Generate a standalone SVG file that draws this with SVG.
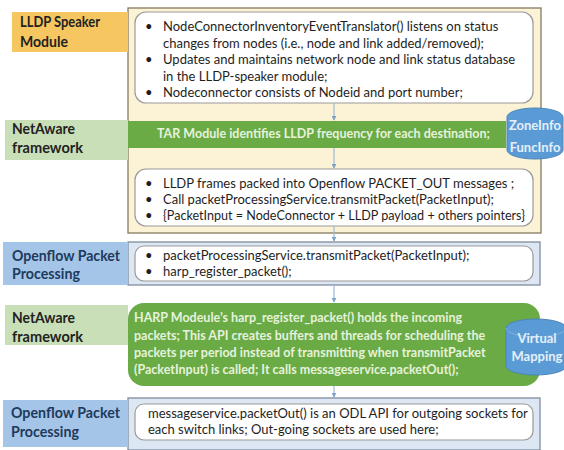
<svg xmlns="http://www.w3.org/2000/svg" width="564" height="450" viewBox="0 0 564 450">
  <defs>
    <style>
      .body { font-family: Lato, "Liberation Sans", sans-serif; font-size: 13px; fill: #1e1e1e; }
      .lbl { font-family: Lato, "Liberation Sans", sans-serif; font-size: 15px; font-weight: bold; }
      .lbl-dark { fill: #222222; }
      .lbl-blue { fill: #1f3a5c; }
      .green-txt { font-family: Lato, "Liberation Sans", sans-serif; font-size: 12.5px; font-weight: bold; fill: #e6f2dc; }
      .info-txt { font-family: Lato, "Liberation Sans", sans-serif; font-size: 13px; font-weight: bold; fill: #e4effa; text-anchor: middle; }
      .card { fill: #ffffff; stroke: #9a9a9a; stroke-width: 1.2; }
      .beige { fill: #fcf2d6; stroke: #857a60; stroke-width: 1.3; }
      .bluebg { fill: #dde7f3; stroke: #7f8c9e; stroke-width: 1.3; }
      .green { fill: #6aab45; }
      .info { fill: #5b9bd5; stroke: #4a85ba; stroke-width: 1; }
      .info-rim { fill: none; stroke: #7fb2e0; stroke-width: 1; }
      .conn { stroke: #9bb7d4; stroke-width: 1.2; fill: none; marker-end: url(#arrow); }
    </style>
    <marker id="arrow" viewBox="0 0 6 6" refX="5" refY="3" markerWidth="4" markerHeight="4" orient="auto">
      <path d="M0,0 L6,3 L0,6 Z" fill="#7fa3c8"/>
    </marker>
  </defs>

  <rect width="564" height="450" fill="#ffffff"/>

  <!-- background frames -->
  <g id="frame-lldp">
    <rect class="beige" x="128" y="8" width="413" height="225"/>
  </g>
  <g id="frame-openflow-1">
    <rect class="bluebg" x="128" y="242" width="412" height="43"/>
  </g>
  <g id="frame-openflow-2">
    <rect class="bluebg" x="128" y="398" width="412" height="52"/>
  </g>

  <!-- left-hand layer labels -->
  <g id="label-lldp">
    <rect x="12" y="12" width="116" height="40" fill="#f6c660"/>
    <text class="lbl lbl-dark" x="20" y="27" textLength="80" lengthAdjust="spacingAndGlyphs">LLDP Speaker</text>
    <text class="lbl lbl-dark" x="20" y="47" textLength="48" lengthAdjust="spacingAndGlyphs">Module</text>
  </g>
  <g id="label-netaware-1">
    <rect x="5" y="120" width="123" height="40" fill="#c8dfb8"/>
    <text class="lbl lbl-dark" x="12" y="134" textLength="63" lengthAdjust="spacingAndGlyphs">NetAware</text>
    <text class="lbl lbl-dark" x="12" y="153" textLength="71" lengthAdjust="spacingAndGlyphs">framework</text>
  </g>
  <g id="label-openflow-1">
    <rect x="3" y="242" width="125" height="43" fill="#a4c5e7"/>
    <text class="lbl lbl-blue" x="12" y="261" textLength="108" lengthAdjust="spacingAndGlyphs">Openflow Packet</text>
    <text class="lbl lbl-blue" x="12" y="279" textLength="68" lengthAdjust="spacingAndGlyphs">Processing</text>
  </g>
  <g id="label-netaware-2">
    <rect x="5" y="305" width="123" height="40" fill="#c8dfb8"/>
    <text class="lbl lbl-dark" x="12" y="323" textLength="63" lengthAdjust="spacingAndGlyphs">NetAware</text>
    <text class="lbl lbl-dark" x="12" y="342" textLength="71" lengthAdjust="spacingAndGlyphs">framework</text>
  </g>
  <g id="label-openflow-2">
    <rect x="3" y="400" width="125" height="47" fill="#a4c5e7"/>
    <text class="lbl lbl-blue" x="11" y="418" textLength="109" lengthAdjust="spacingAndGlyphs">Openflow Packet</text>
    <text class="lbl lbl-blue" x="11" y="437" textLength="68" lengthAdjust="spacingAndGlyphs">Processing</text>
  </g>

  <!-- LLDP speaker notes -->
  <g id="node-lldp-notes">
    <rect class="card" x="135" y="12" width="398" height="91" rx="11"/>
    <text class="body" x="145" y="31">•</text>
    <text class="body" x="163" y="31">NodeConnectorInventoryEventTranslator()  listens on status</text>
    <text class="body" x="163" y="47.5">changes from nodes (i.e., node and link added/removed);</text>
    <text class="body" x="145" y="64">•</text>
    <text class="body" x="163" y="64">Updates and maintains network node and link status database</text>
    <text class="body" x="163" y="80.5">in the LLDP-speaker module;</text>
    <text class="body" x="145" y="97">•</text>
    <text class="body" x="163" y="97">Nodeconnector  consists of Nodeid and port number;</text>
  </g>

  <!-- TAR module bar -->
  <g id="node-tar">
    <rect class="green" x="128" y="121" width="378" height="27"/>
    <text class="green-txt" x="157" y="138">TAR Module identifies  LLDP frequency for each destination;</text>
  </g>

  <!-- ZoneInfo / FuncInfo store -->
  <g id="node-zoneinfo">
    <path class="info" d="M507,117 A28,9 0 0 1 563,117 V150 A28,9 0 0 1 507,150 Z"/>
    <text class="info-txt" x="535" y="130">ZoneInfo</text>
    <text class="info-txt" x="535" y="152">FuncInfo</text>
  </g>

  <!-- packet-out notes -->
  <g id="node-packet-out">
    <rect class="card" x="135" y="169" width="398" height="57" rx="11"/>
    <text class="body" x="145" y="188">•</text>
    <text class="body" x="163" y="188">LLDP frames packed into Openflow PACKET_OUT messages ;</text>
    <text class="body" x="145" y="204">•</text>
    <text class="body" x="163" y="204">Call packetProcessingService.transmitPacket(PacketInput);</text>
    <text class="body" x="145" y="220">•</text>
    <text class="body" x="163" y="220" textLength="362" lengthAdjust="spacingAndGlyphs">{PacketInput = NodeConnector  + LLDP payload + others pointers}</text>
  </g>

  <!-- openflow transmit -->
  <g id="node-transmit">
    <rect class="card" x="135" y="246" width="398" height="35" rx="9"/>
    <text class="body" x="145" y="260">•</text>
    <text class="body" x="163" y="260">packetProcessingService.transmitPacket(PacketInput);</text>
    <text class="body" x="145" y="276">•</text>
    <text class="body" x="163" y="276">harp_register_packet();</text>
  </g>

  <!-- HARP module -->
  <g id="node-harp">
    <rect class="green" x="128" y="303" width="412" height="83" rx="16"/>
    <text class="green-txt" x="134" y="322">HARP Modeule’s harp_register_packet() holds the incoming</text>
    <text class="green-txt" x="134" y="340">packets; This API creates buffers and threads for scheduling the</text>
    <text class="green-txt" x="134" y="357">packets per period instead of transmitting when transmitPacket</text>
    <text class="green-txt" x="134" y="374">(PacketInput)  is called; It calls messageservice.packetOut();</text>
  </g>

  <!-- Virtual Mapping store -->
  <g id="node-virtual-mapping">
    <path class="info" d="M506,328 A30,9 0 0 1 566,328 V366 A30,9 0 0 1 506,366 Z"/>
    <path class="info-rim" d="M506,328 A30,9 0 0 0 566,328"/>
    <text class="info-txt" x="537" y="343">Virtual</text>
    <text class="info-txt" x="537" y="361">Mapping</text>
  </g>

  <!-- ODL packet out -->
  <g id="node-odl-out">
    <rect class="card" x="135" y="404" width="398" height="36" rx="9"/>
    <text class="body" x="148" y="418">messageservice.packetOut() is an ODL API for outgoing sockets for</text>
    <text class="body" x="148" y="434">each switch links; Out-going sockets are used here;</text>
  </g>

  <!-- connectors -->
  <g id="connectors">
    <line class="conn" x1="334" y1="103" x2="334" y2="120"/>
    <line class="conn" x1="334" y1="148" x2="334" y2="168"/>
    <line class="conn" x1="334" y1="226" x2="334" y2="241"/>
    <line class="conn" x1="334" y1="285" x2="334" y2="302"/>
    <line class="conn" x1="334" y1="386" x2="334" y2="397"/>
  </g>
</svg>
